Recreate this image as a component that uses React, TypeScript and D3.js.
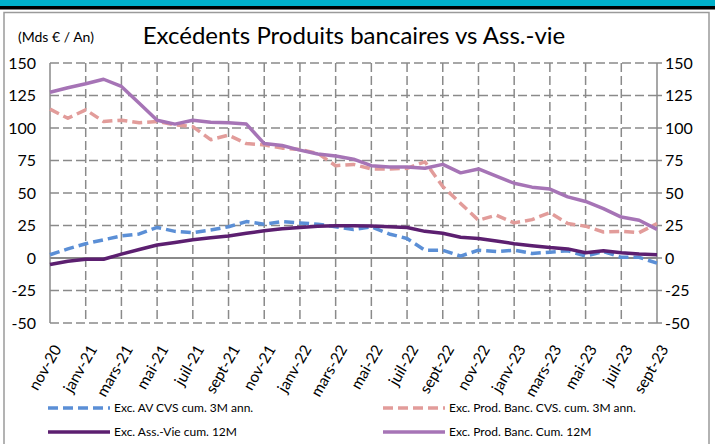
import React from "react";
import * as d3 from "d3";

const months = [
  "nov-20", "déc-20", "janv-21", "févr-21", "mars-21", "avr-21", "mai-21", "juin-21", "juil-21", "août-21", "sept-21", "oct-21",
  "nov-21", "déc-21", "janv-22", "févr-22", "mars-22", "avr-22", "mai-22", "juin-22", "juil-22", "août-22", "sept-22", "oct-22",
  "nov-22", "déc-22", "janv-23", "févr-23", "mars-23", "avr-23", "mai-23", "juin-23", "juil-23", "août-23", "sept-23",
];
const tickLabels = months.filter((_, i) => i % 2 === 0);
const yTicks = [-50, -25, 0, 25, 50, 75, 100, 125, 150];

const excAvCvs = [
  2.5, 7, 11, 14, 17, 18.5, 23.5, 20.5, 19.5, 21.5, 24, 28,
  26, 28, 27, 26, 24, 22, 24, 18.5, 15, 6, 6, 1.5,
  6, 5, 6, 3.5, 4.5, 5.5, 1.5, 5, 0.5, 0.5, -4,
];
const excProdBancCvs = [
  114.5, 107.5, 114, 105, 106, 104, 105, 102.5, 101, 91, 94.5, 88,
  87, 84.5, 83.5, 80.5, 71, 72, 68.5, 68.5, 69, 74, 55, 42,
  29, 33, 27, 29.5, 35, 26.5, 24.5, 20, 20.5, 19.5, 26.5,
];
const excAssVie12M = [
  -5, -2.5, -1, -1, 3, 6.5, 10, 12, 14, 15.5, 17, 19,
  21, 22.5, 23.5, 24.5, 24.8, 24.8, 24.6, 24, 23.5, 20.5, 19, 16,
  15, 13, 11, 9.5, 8, 7, 4, 5.5, 4, 3, 2.5,
];
const excProdBanc12M = [
  127.5, 131, 134, 137.5, 132, 119, 106, 103, 106, 104.5, 104, 103,
  88, 86.5, 83, 80, 78.5, 76, 71, 70, 70, 69, 72, 65.5,
  68.5, 63, 57.5, 54.5, 53, 47, 43.5, 38, 31.5, 29, 22,
];

const series = [
  { name: "Exc. AV CVS cum. 3M ann.", values: excAvCvs, color: "#5B8FD6", dash: "10,5" },
  { name: "Exc. Prod. Banc. CVS. cum. 3M ann.", values: excProdBancCvs, color: "#E29C9A", dash: "10,5" },
  { name: "Exc. Ass.-Vie cum. 12M", values: excAssVie12M, color: "#5C1F70", dash: null },
  { name: "Exc. Prod. Banc. Cum. 12M", values: excProdBanc12M, color: "#A674B6", dash: null },
];

const W = 715;
const H = 444;
const left = 50;
const right = 657;
const top = 63;
const bottom = 323;
const FONT = "Lato, 'Open Sans', sans-serif";
const GRID = "#8A8A8A";

export default function App() {
  const x = d3.scalePoint<string>().domain(months).range([left, right]);
  const y = d3.scaleLinear().domain([-50, 150]).range([bottom, top]);
  const line = d3
    .line<number>()
    .x((_, i) => x(months[i]) as number)
    .y((d) => y(d));

  const legendPos = [
    { lx: 48, ly: 408 },
    { lx: 383, ly: 408 },
    { lx: 48, ly: 432 },
    { lx: 383, ly: 432 },
  ];

  return (
    <svg
      width={W}
      height={H}
      style={{ position: "absolute", left: 0, top: 0, background: "#fff" }}
      fontFamily={FONT}
    >
      <rect x={0} y={0} width={W} height={6} fill="#00B0CA" />
      <rect x={0} y={6} width={W} height={3.5} fill="#000" />
      <rect x={4} y={12.5} width={705} height={440} fill="#fff" stroke="#9A9A9A" strokeWidth={1.5} />

      <text x={18} y={42} fontSize={14} fill="#000">(Mds € / An)</text>
      <text x={354} y={44} fontSize={24} fill="#000" textAnchor="middle">
        Excédents Produits bancaires vs Ass.-vie
      </text>

      {yTicks.map((t) => (
        <line
          key={"h" + t}
          x1={left}
          x2={right}
          y1={y(t)}
          y2={y(t)}
          stroke={GRID}
          strokeWidth={t === 0 ? 2 : 1.5}
          strokeDasharray={t === 0 ? undefined : "9,4"}
        />
      ))}
      {tickLabels.slice(1, -1).map((m) => (
        <line
          key={"v" + m}
          x1={x(m)}
          x2={x(m)}
          y1={top}
          y2={bottom}
          stroke={GRID}
          strokeWidth={1.5}
          strokeDasharray="9,4"
        />
      ))}
      <line x1={left} x2={left} y1={top} y2={bottom} stroke={GRID} strokeWidth={1.5} />
      <line x1={right} x2={right} y1={top} y2={bottom} stroke={GRID} strokeWidth={1.5} />
      {yTicks.map((t) => (
        <line key={"rt" + t} x1={right} x2={right + 5} y1={y(t)} y2={y(t)} stroke={GRID} strokeWidth={1.5} />
      ))}
      {yTicks.map((t) => (
        <text key={"ly" + t} x={36} y={y(t)} dy="0.35em" fontSize={16} textAnchor="end" fill="#000">
          {t}
        </text>
      ))}
      {yTicks.map((t) => (
        <text key={"ry" + t} x={665} y={y(t)} dy="0.35em" fontSize={16} textAnchor="start" fill="#000">
          {t}
        </text>
      ))}

      {tickLabels.map((m) => {
        const px = (x(m) as number) + 12;
        const py = 349;
        return (
          <text
            key={"xl" + m}
            x={px}
            y={py}
            fontSize={15.5}
            textAnchor="end"
            transform={`rotate(-60 ${px} ${py})`}
            fill="#000"
          >
            {m}
          </text>
        );
      })}

      {series.map((s) => (
        <path
          key={s.name}
          d={line(s.values) as string}
          fill="none"
          stroke={s.color}
          strokeWidth={3.5}
          strokeDasharray={s.dash || undefined}
          strokeLinejoin="round"
        />
      ))}

      {series.map((s, i) => {
        const p = legendPos[i];
        return (
          <g key={"lg" + s.name}>
            <line
              x1={p.lx}
              x2={p.lx + 62}
              y1={p.ly}
              y2={p.ly}
              stroke={s.color}
              strokeWidth={3.5}
              strokeDasharray={s.dash || undefined}
            />
            <text x={p.lx + 66} y={p.ly} dy="0.35em" fontSize={12} fill="#000">
              {s.name}
            </text>
          </g>
        );
      })}
    </svg>
  );
}
